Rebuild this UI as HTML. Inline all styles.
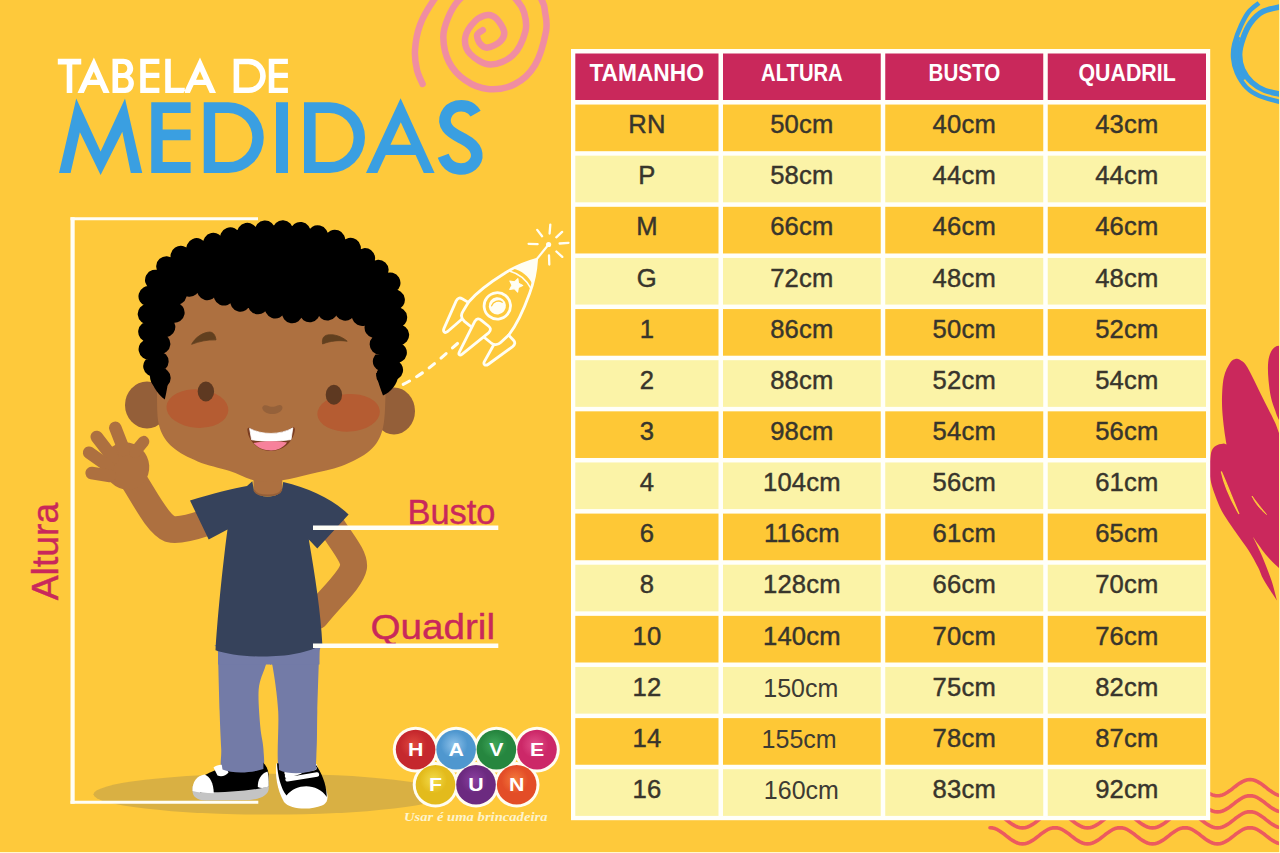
<!DOCTYPE html>
<html><head><meta charset="utf-8"><title>Tabela de Medidas</title>
<style>
html,body{margin:0;padding:0;background:#fffad2;}
body{width:1280px;height:853px;position:relative;overflow:hidden;font-family:"Liberation Sans",sans-serif;}
#bg{position:absolute;left:0;top:0;width:1279px;height:852px;background:#fec93b;overflow:hidden;}
svg.l{position:absolute;left:0;top:0;}
.tb{position:absolute;background:#fffffa;}
.hd{position:absolute;background:#ca285c;}
.cl{position:absolute;text-align:center;}
.ra{background:#fec836;}
.rb{background:#fbf3a8;}
.tx{display:block;font-size:25.6px;line-height:28px;padding-top:5.7px;color:#38352c;-webkit-text-stroke:0.45px #38352c;letter-spacing:0.2px;}
.tx.ar{font-size:25px;padding-top:7.2px;-webkit-text-stroke:0;letter-spacing:0;color:#3d3b33;}
</style></head>
<body>
<div style="position:absolute;left:1279px;top:0;width:1px;height:852px;background:#fff3a6"></div>
<div id="bg">
<svg class="l" width="1280" height="853" viewBox="0 0 1280 853">
<path d="M482.8 30.1C481.9 30.9 477.5 32.8 477.1 35.1C476.7 37.4 478.5 41.8 480.3 43.9C482.1 46.0 484.5 48.0 487.8 47.6C491.1 47.2 497.6 44.1 500.3 41.4C503.0 38.7 504.8 35.1 504.1 31.3C503.4 27.5 499.0 21.2 496.3 18.5C493.6 15.8 491.3 14.6 487.8 15.0C484.3 15.4 479.0 17.2 475.2 21.0C471.4 24.8 466.0 32.1 465.2 37.6C464.4 43.1 466.0 49.4 470.2 53.9C474.4 58.4 483.2 64.4 490.3 64.6C497.4 64.8 507.0 60.8 512.9 55.2C518.8 49.7 523.5 38.4 525.4 31.3C527.3 24.2 525.6 17.7 524.1 12.5C522.6 7.3 520.6 4.4 516.6 0.0C512.6 -4.4 506.4 -12.0 500.0 -14.0C493.6 -16.0 484.8 -14.3 478.0 -12.0C471.2 -9.7 464.0 -5.0 459.0 0.0C454.0 5.0 450.6 11.7 448.0 18.0C445.4 24.3 443.1 30.3 443.3 37.6C443.5 44.9 445.4 54.9 449.0 62.0C452.6 69.1 458.5 75.5 465.0 80.0C471.5 84.5 479.5 88.3 487.8 89.0C496.1 89.7 507.1 88.0 515.0 84.0C522.9 80.0 529.8 73.8 535.0 65.0C540.2 56.2 544.3 40.1 546.0 31.3C547.7 22.5 545.7 17.2 545.0 12.0C544.3 6.8 545.0 6.2 541.7 0.0C538.4 -6.2 533.6 -18.7 525.0 -25.0C516.4 -31.3 501.7 -38.0 490.0 -38.0C478.3 -38.0 464.4 -31.3 455.0 -25.0C445.6 -18.7 439.7 -8.3 433.9 0.0C428.1 8.3 423.1 16.6 420.0 25.0C416.9 33.4 415.5 42.7 415.0 50.2C414.5 57.7 415.7 64.4 417.0 70.0C418.3 75.6 421.7 81.7 422.6 84.0" fill="none" stroke="#f08da1" stroke-width="6.5" stroke-linecap="round" stroke-linejoin="round"/>
<path d="M1259.0 3.0C1257.3 4.4 1252.0 7.8 1249.0 11.5C1246.0 15.2 1243.5 20.1 1241.0 25.5C1238.5 30.9 1235.6 38.6 1234.3 44.0C1233.0 49.4 1232.8 53.2 1233.2 58.0C1233.6 62.8 1234.6 67.6 1236.8 72.5C1239.0 77.4 1242.7 83.6 1246.5 87.5C1250.3 91.4 1253.6 93.5 1259.5 96.0C1265.4 98.5 1278.2 101.4 1282.0 102.5" fill="none" stroke="#3a9fe1" stroke-width="4.6"/>
<path d="M1282.0 6.5C1278.8 7.3 1268.2 8.8 1263.0 11.5C1257.8 14.2 1253.8 18.5 1250.5 23.0C1247.2 27.5 1244.8 33.3 1243.0 38.5C1241.2 43.7 1239.7 48.8 1239.6 54.0C1239.5 59.2 1240.4 64.8 1242.5 69.5C1244.6 74.2 1248.2 79.0 1252.0 82.5C1255.8 86.0 1260.0 88.5 1265.0 90.5C1270.0 92.5 1279.2 93.8 1282.0 94.5" fill="none" stroke="#3a9fe1" stroke-width="5.6"/>
<path d="M1238.5 37.0C1238.1 39.8 1236.2 48.7 1236.3 54.0C1236.4 59.3 1237.6 64.8 1239.0 69.0C1240.4 73.2 1243.6 77.8 1244.5 79.5" fill="none" stroke="#3a9fe1" stroke-width="3.4"/>
<path d="M1275.0 347.0C1273.0 348.3 1271.2 351.0 1270.0 354.0C1268.8 357.0 1268.2 360.7 1268.0 365.0C1267.8 369.3 1268.0 374.6 1268.5 380.0C1269.0 385.4 1269.9 392.5 1271.0 397.5C1272.1 402.5 1273.7 406.2 1275.0 410.0C1276.3 413.8 1276.5 415.0 1279.0 420.0C1281.5 425.0 1288.2 451.7 1290.0 440.0C1291.8 428.3 1291.3 365.7 1290.0 350.0C1288.7 334.3 1284.5 346.5 1282.0 346.0C1279.5 345.5 1277.0 345.7 1275.0 347.0Z" fill="#ca285c"/>
<path d="M1290.0 452.0C1288.3 449.2 1282.5 439.9 1280.0 435.0C1277.5 430.1 1277.9 428.8 1275.0 422.5C1272.1 416.2 1267.1 406.7 1262.5 397.5C1257.9 388.3 1251.1 373.7 1247.5 367.5C1243.9 361.3 1242.9 362.0 1241.0 360.5C1239.1 359.0 1237.8 358.3 1236.0 358.8C1234.2 359.2 1232.0 359.9 1230.0 363.0C1228.0 366.1 1225.1 370.9 1223.8 377.5C1222.4 384.1 1222.0 394.1 1222.0 402.5C1222.0 410.9 1223.2 421.0 1224.0 428.0C1224.8 435.0 1226.1 441.8 1226.5 444.5 L1224.0 443.5C1222.9 443.8 1219.5 443.9 1217.5 445.0C1215.5 446.1 1213.2 447.2 1212.0 450.0C1210.8 452.8 1210.2 457.0 1210.0 462.0C1209.8 467.0 1209.3 473.7 1210.5 480.0C1211.7 486.3 1214.7 494.3 1216.9 500.0C1219.1 505.7 1220.1 508.2 1223.5 514.0C1226.9 519.8 1233.3 528.6 1237.5 534.7C1241.7 540.8 1245.3 545.2 1248.8 550.7C1252.2 556.2 1255.7 562.6 1258.2 567.5C1260.7 572.4 1260.7 574.5 1263.8 580.0C1266.9 585.5 1274.8 597.1 1277.0 600.5 L1277.0 600.5C1276.0 597.1 1273.8 587.4 1271.3 580.0C1268.8 572.6 1265.0 563.2 1262.0 556.0C1259.0 548.8 1254.5 540.2 1253.0 537.0 L1253.0 537.0C1255.1 539.9 1261.4 549.2 1265.7 554.4C1270.0 559.6 1275.0 564.6 1279.0 568.0C1283.0 571.4 1288.2 573.8 1290.0 575.0 Z" fill="#ca285c"/>
<path d="M1221.3 471.5C1227 484 1233 500 1239 514C1231 500 1224 484 1221.3 471.5Z" fill="#fec93b" stroke="#fec93b" stroke-width="1.2"/>
<path d="M1252 496C1257 503 1262 509 1266.5 514.5C1260 509 1255 503 1252 496Z" fill="#fec93b" stroke="#fec93b" stroke-width="0.8"/>
<path d="M990.0 827.7 L992.5 827.9 L995.0 828.6 L997.5 829.7 L1000.0 831.2 L1002.5 832.9 L1005.0 834.8 L1007.5 836.8 L1010.0 838.7 L1012.5 840.4 L1015.0 841.9 L1017.5 843.0 L1020.0 843.7 L1022.5 843.9 L1025.0 843.7 L1027.5 843.0 L1030.0 841.9 L1032.5 840.4 L1035.0 838.7 L1037.5 836.8 L1040.0 834.8 L1042.5 832.9 L1045.0 831.2 L1047.5 829.7 L1050.0 828.6 L1052.5 827.9 L1055.0 827.7 L1057.5 827.9 L1060.0 828.6 L1062.5 829.7 L1065.0 831.2 L1067.5 832.9 L1070.0 834.8 L1072.5 836.8 L1075.0 838.7 L1077.5 840.4 L1080.0 841.9 L1082.5 843.0 L1085.0 843.7 L1087.5 843.9 L1090.0 843.7 L1092.5 843.0 L1095.0 841.9 L1097.5 840.4 L1100.0 838.7 L1102.5 836.8 L1105.0 834.8 L1107.5 832.9 L1110.0 831.2 L1112.5 829.7 L1115.0 828.6 L1117.5 827.9 L1120.0 827.7 L1122.5 827.9 L1125.0 828.6 L1127.5 829.7 L1130.0 831.2 L1132.5 832.9 L1135.0 834.8 L1137.5 836.8 L1140.0 838.7 L1142.5 840.4 L1145.0 841.9 L1147.5 843.0 L1150.0 843.7 L1152.5 843.9 L1155.0 843.7 L1157.5 843.0 L1160.0 841.9 L1162.5 840.4 L1165.0 838.7 L1167.5 836.8 L1170.0 834.8 L1172.5 832.9 L1175.0 831.2 L1177.5 829.7 L1180.0 828.6 L1182.5 827.9 L1185.0 827.7 L1187.5 827.9 L1190.0 828.6 L1192.5 829.7 L1195.0 831.2 L1197.5 832.9 L1200.0 834.8 L1202.5 836.8 L1205.0 838.7 L1207.5 840.4 L1210.0 841.9 L1212.5 843.0 L1215.0 843.7 L1217.5 843.9 L1220.0 843.7 L1222.5 843.0 L1225.0 841.9 L1227.5 840.4 L1230.0 838.7 L1232.5 836.8 L1235.0 834.8 L1237.5 832.9 L1240.0 831.2 L1242.5 829.7 L1245.0 828.6 L1247.5 827.9 L1250.0 827.7 L1252.5 827.9 L1255.0 828.6 L1257.5 829.7 L1260.0 831.2 L1262.5 832.9 L1265.0 834.8 L1267.5 836.8 L1270.0 838.7 L1272.5 840.4 L1275.0 841.9 L1277.5 843.0 L1280.0 843.7" fill="none" stroke="#ec5a5f" stroke-width="3.6" stroke-linecap="round" stroke-linejoin="round"/>
<path d="M990.0 811.7 L992.5 811.9 L995.0 812.6 L997.5 813.7 L1000.0 815.2 L1002.5 816.9 L1005.0 818.8 L1007.5 820.8 L1010.0 822.7 L1012.5 824.4 L1015.0 825.9 L1017.5 827.0 L1020.0 827.7 L1022.5 827.9 L1025.0 827.7 L1027.5 827.0 L1030.0 825.9 L1032.5 824.4 L1035.0 822.7 L1037.5 820.8 L1040.0 818.8 L1042.5 816.9 L1045.0 815.2 L1047.5 813.7 L1050.0 812.6 L1052.5 811.9 L1055.0 811.7 L1057.5 811.9 L1060.0 812.6 L1062.5 813.7 L1065.0 815.2 L1067.5 816.9 L1070.0 818.8 L1072.5 820.8 L1075.0 822.7 L1077.5 824.4 L1080.0 825.9 L1082.5 827.0 L1085.0 827.7 L1087.5 827.9 L1090.0 827.7 L1092.5 827.0 L1095.0 825.9 L1097.5 824.4 L1100.0 822.7 L1102.5 820.8 L1105.0 818.8 L1107.5 816.9 L1110.0 815.2 L1112.5 813.7 L1115.0 812.6 L1117.5 811.9 L1120.0 811.7 L1122.5 811.9 L1125.0 812.6 L1127.5 813.7 L1130.0 815.2 L1132.5 816.9 L1135.0 818.8 L1137.5 820.8 L1140.0 822.7 L1142.5 824.4 L1145.0 825.9 L1147.5 827.0 L1150.0 827.7 L1152.5 827.9 L1155.0 827.7 L1157.5 827.0 L1160.0 825.9 L1162.5 824.4 L1165.0 822.7 L1167.5 820.8 L1170.0 818.8 L1172.5 816.9 L1175.0 815.2 L1177.5 813.7 L1180.0 812.6 L1182.5 811.9 L1185.0 811.7 L1187.5 811.9 L1190.0 812.6 L1192.5 813.7 L1195.0 815.2 L1197.5 816.9 L1200.0 818.8 L1202.5 820.8 L1205.0 822.7 L1207.5 824.4 L1210.0 825.9 L1212.5 827.0 L1215.0 827.7 L1217.5 827.9 L1220.0 827.7 L1222.5 827.0 L1225.0 825.9 L1227.5 824.4 L1230.0 822.7 L1232.5 820.8 L1235.0 818.8 L1237.5 816.9 L1240.0 815.2 L1242.5 813.7 L1245.0 812.6 L1247.5 811.9 L1250.0 811.7 L1252.5 811.9 L1255.0 812.6 L1257.5 813.7 L1260.0 815.2 L1262.5 816.9 L1265.0 818.8 L1267.5 820.8 L1270.0 822.7 L1272.5 824.4 L1275.0 825.9 L1277.5 827.0 L1280.0 827.7" fill="none" stroke="#ec5a5f" stroke-width="3.6" stroke-linecap="round" stroke-linejoin="round"/>
<path d="M1200.0 802.8 L1202.5 804.8 L1205.0 806.7 L1207.5 808.4 L1210.0 809.9 L1212.5 811.0 L1215.0 811.7 L1217.5 811.9 L1220.0 811.7 L1222.5 811.0 L1225.0 809.9 L1227.5 808.4 L1230.0 806.7 L1232.5 804.8 L1235.0 802.8 L1237.5 800.9 L1240.0 799.2 L1242.5 797.7 L1245.0 796.6 L1247.5 795.9 L1250.0 795.7 L1252.5 795.9 L1255.0 796.6 L1257.5 797.7 L1260.0 799.2 L1262.5 800.9 L1265.0 802.8 L1267.5 804.8 L1270.0 806.7 L1272.5 808.4 L1275.0 809.9 L1277.5 811.0 L1280.0 811.7" fill="none" stroke="#ec5a5f" stroke-width="3.6" stroke-linecap="round" stroke-linejoin="round"/>
<path d="M1200.0 786.7 L1202.5 788.7 L1205.0 790.6 L1207.5 792.3 L1210.0 793.8 L1212.5 794.9 L1215.0 795.6 L1217.5 795.8 L1220.0 795.6 L1222.5 794.9 L1225.0 793.8 L1227.5 792.3 L1230.0 790.6 L1232.5 788.7 L1235.0 786.7 L1237.5 784.8 L1240.0 783.1 L1242.5 781.6 L1245.0 780.5 L1247.5 779.8 L1250.0 779.6 L1252.5 779.8 L1255.0 780.5 L1257.5 781.6 L1260.0 783.1 L1262.5 784.8 L1265.0 786.7 L1267.5 788.7 L1270.0 790.6 L1272.5 792.3 L1275.0 793.8 L1277.5 794.9 L1280.0 795.6" fill="none" stroke="#ec5a5f" stroke-width="3.6" stroke-linecap="round" stroke-linejoin="round"/>
</svg>
<svg class="l" width="1280" height="853" viewBox="0 0 1280 853"><rect x="571" y="49" width="639.2" height="771.2" fill="#fffffa"/><rect x="575.3" y="53.5" width="143.20" height="46.5" fill="#c9285b"/><rect x="723.0" y="53.5" width="157.75" height="46.5" fill="#c9285b"/><rect x="885.25" y="53.5" width="158.00" height="46.5" fill="#c9285b"/><rect x="1047.75" y="53.5" width="158.25" height="46.5" fill="#c9285b"/><rect x="575.3" y="104.55" width="143.20" height="46.65" fill="#fec836"/><rect x="723.0" y="104.55" width="157.75" height="46.65" fill="#fec836"/><rect x="885.25" y="104.55" width="158.00" height="46.65" fill="#fec836"/><rect x="1047.75" y="104.55" width="158.25" height="46.65" fill="#fec836"/><rect x="575.3" y="155.68" width="143.20" height="46.65" fill="#fbf3a7"/><rect x="723.0" y="155.68" width="157.75" height="46.65" fill="#fbf3a7"/><rect x="885.25" y="155.68" width="158.00" height="46.65" fill="#fbf3a7"/><rect x="1047.75" y="155.68" width="158.25" height="46.65" fill="#fbf3a7"/><rect x="575.3" y="206.81" width="143.20" height="46.65" fill="#fec836"/><rect x="723.0" y="206.81" width="157.75" height="46.65" fill="#fec836"/><rect x="885.25" y="206.81" width="158.00" height="46.65" fill="#fec836"/><rect x="1047.75" y="206.81" width="158.25" height="46.65" fill="#fec836"/><rect x="575.3" y="257.94" width="143.20" height="46.65" fill="#fbf3a7"/><rect x="723.0" y="257.94" width="157.75" height="46.65" fill="#fbf3a7"/><rect x="885.25" y="257.94" width="158.00" height="46.65" fill="#fbf3a7"/><rect x="1047.75" y="257.94" width="158.25" height="46.65" fill="#fbf3a7"/><rect x="575.3" y="309.07" width="143.20" height="46.65" fill="#fec836"/><rect x="723.0" y="309.07" width="157.75" height="46.65" fill="#fec836"/><rect x="885.25" y="309.07" width="158.00" height="46.65" fill="#fec836"/><rect x="1047.75" y="309.07" width="158.25" height="46.65" fill="#fec836"/><rect x="575.3" y="360.20" width="143.20" height="46.65" fill="#fbf3a7"/><rect x="723.0" y="360.20" width="157.75" height="46.65" fill="#fbf3a7"/><rect x="885.25" y="360.20" width="158.00" height="46.65" fill="#fbf3a7"/><rect x="1047.75" y="360.20" width="158.25" height="46.65" fill="#fbf3a7"/><rect x="575.3" y="411.33" width="143.20" height="46.65" fill="#fec836"/><rect x="723.0" y="411.33" width="157.75" height="46.65" fill="#fec836"/><rect x="885.25" y="411.33" width="158.00" height="46.65" fill="#fec836"/><rect x="1047.75" y="411.33" width="158.25" height="46.65" fill="#fec836"/><rect x="575.3" y="462.46" width="143.20" height="46.65" fill="#fbf3a7"/><rect x="723.0" y="462.46" width="157.75" height="46.65" fill="#fbf3a7"/><rect x="885.25" y="462.46" width="158.00" height="46.65" fill="#fbf3a7"/><rect x="1047.75" y="462.46" width="158.25" height="46.65" fill="#fbf3a7"/><rect x="575.3" y="513.59" width="143.20" height="46.65" fill="#fec836"/><rect x="723.0" y="513.59" width="157.75" height="46.65" fill="#fec836"/><rect x="885.25" y="513.59" width="158.00" height="46.65" fill="#fec836"/><rect x="1047.75" y="513.59" width="158.25" height="46.65" fill="#fec836"/><rect x="575.3" y="564.72" width="143.20" height="46.65" fill="#fbf3a7"/><rect x="723.0" y="564.72" width="157.75" height="46.65" fill="#fbf3a7"/><rect x="885.25" y="564.72" width="158.00" height="46.65" fill="#fbf3a7"/><rect x="1047.75" y="564.72" width="158.25" height="46.65" fill="#fbf3a7"/><rect x="575.3" y="615.85" width="143.20" height="46.65" fill="#fec836"/><rect x="723.0" y="615.85" width="157.75" height="46.65" fill="#fec836"/><rect x="885.25" y="615.85" width="158.00" height="46.65" fill="#fec836"/><rect x="1047.75" y="615.85" width="158.25" height="46.65" fill="#fec836"/><rect x="575.3" y="666.98" width="143.20" height="46.65" fill="#fbf3a7"/><rect x="723.0" y="666.98" width="157.75" height="46.65" fill="#fbf3a7"/><rect x="885.25" y="666.98" width="158.00" height="46.65" fill="#fbf3a7"/><rect x="1047.75" y="666.98" width="158.25" height="46.65" fill="#fbf3a7"/><rect x="575.3" y="718.11" width="143.20" height="46.65" fill="#fec836"/><rect x="723.0" y="718.11" width="157.75" height="46.65" fill="#fec836"/><rect x="885.25" y="718.11" width="158.00" height="46.65" fill="#fec836"/><rect x="1047.75" y="718.11" width="158.25" height="46.65" fill="#fec836"/><rect x="575.3" y="769.24" width="143.20" height="46.65" fill="#fbf3a7"/><rect x="723.0" y="769.24" width="157.75" height="46.65" fill="#fbf3a7"/><rect x="885.25" y="769.24" width="158.00" height="46.65" fill="#fbf3a7"/><rect x="1047.75" y="769.24" width="158.25" height="46.65" fill="#fbf3a7"/></svg>
<div class="cl" style="left:575.3px;top:104.55px;width:143.20px;height:46.65px"><span class="tx">RN</span></div>
<div class="cl" style="left:723.0px;top:104.55px;width:157.75px;height:46.65px"><span class="tx">50cm</span></div>
<div class="cl" style="left:885.25px;top:104.55px;width:158.00px;height:46.65px"><span class="tx">40cm</span></div>
<div class="cl" style="left:1047.75px;top:104.55px;width:158.25px;height:46.65px"><span class="tx">43cm</span></div>
<div class="cl" style="left:575.3px;top:155.68px;width:143.20px;height:46.65px"><span class="tx">P</span></div>
<div class="cl" style="left:723.0px;top:155.68px;width:157.75px;height:46.65px"><span class="tx">58cm</span></div>
<div class="cl" style="left:885.25px;top:155.68px;width:158.00px;height:46.65px"><span class="tx">44cm</span></div>
<div class="cl" style="left:1047.75px;top:155.68px;width:158.25px;height:46.65px"><span class="tx">44cm</span></div>
<div class="cl" style="left:575.3px;top:206.81px;width:143.20px;height:46.65px"><span class="tx">M</span></div>
<div class="cl" style="left:723.0px;top:206.81px;width:157.75px;height:46.65px"><span class="tx">66cm</span></div>
<div class="cl" style="left:885.25px;top:206.81px;width:158.00px;height:46.65px"><span class="tx">46cm</span></div>
<div class="cl" style="left:1047.75px;top:206.81px;width:158.25px;height:46.65px"><span class="tx">46cm</span></div>
<div class="cl" style="left:575.3px;top:257.94px;width:143.20px;height:46.65px"><span class="tx">G</span></div>
<div class="cl" style="left:723.0px;top:257.94px;width:157.75px;height:46.65px"><span class="tx">72cm</span></div>
<div class="cl" style="left:885.25px;top:257.94px;width:158.00px;height:46.65px"><span class="tx">48cm</span></div>
<div class="cl" style="left:1047.75px;top:257.94px;width:158.25px;height:46.65px"><span class="tx">48cm</span></div>
<div class="cl" style="left:575.3px;top:309.07px;width:143.20px;height:46.65px"><span class="tx">1</span></div>
<div class="cl" style="left:723.0px;top:309.07px;width:157.75px;height:46.65px"><span class="tx">86cm</span></div>
<div class="cl" style="left:885.25px;top:309.07px;width:158.00px;height:46.65px"><span class="tx">50cm</span></div>
<div class="cl" style="left:1047.75px;top:309.07px;width:158.25px;height:46.65px"><span class="tx">52cm</span></div>
<div class="cl" style="left:575.3px;top:360.20px;width:143.20px;height:46.65px"><span class="tx">2</span></div>
<div class="cl" style="left:723.0px;top:360.20px;width:157.75px;height:46.65px"><span class="tx">88cm</span></div>
<div class="cl" style="left:885.25px;top:360.20px;width:158.00px;height:46.65px"><span class="tx">52cm</span></div>
<div class="cl" style="left:1047.75px;top:360.20px;width:158.25px;height:46.65px"><span class="tx">54cm</span></div>
<div class="cl" style="left:575.3px;top:411.33px;width:143.20px;height:46.65px"><span class="tx">3</span></div>
<div class="cl" style="left:723.0px;top:411.33px;width:157.75px;height:46.65px"><span class="tx">98cm</span></div>
<div class="cl" style="left:885.25px;top:411.33px;width:158.00px;height:46.65px"><span class="tx">54cm</span></div>
<div class="cl" style="left:1047.75px;top:411.33px;width:158.25px;height:46.65px"><span class="tx">56cm</span></div>
<div class="cl" style="left:575.3px;top:462.46px;width:143.20px;height:46.65px"><span class="tx">4</span></div>
<div class="cl" style="left:723.0px;top:462.46px;width:157.75px;height:46.65px"><span class="tx">104cm</span></div>
<div class="cl" style="left:885.25px;top:462.46px;width:158.00px;height:46.65px"><span class="tx">56cm</span></div>
<div class="cl" style="left:1047.75px;top:462.46px;width:158.25px;height:46.65px"><span class="tx">61cm</span></div>
<div class="cl" style="left:575.3px;top:513.59px;width:143.20px;height:46.65px"><span class="tx">6</span></div>
<div class="cl" style="left:723.0px;top:513.59px;width:157.75px;height:46.65px"><span class="tx">116cm</span></div>
<div class="cl" style="left:885.25px;top:513.59px;width:158.00px;height:46.65px"><span class="tx">61cm</span></div>
<div class="cl" style="left:1047.75px;top:513.59px;width:158.25px;height:46.65px"><span class="tx">65cm</span></div>
<div class="cl" style="left:575.3px;top:564.72px;width:143.20px;height:46.65px"><span class="tx">8</span></div>
<div class="cl" style="left:723.0px;top:564.72px;width:157.75px;height:46.65px"><span class="tx">128cm</span></div>
<div class="cl" style="left:885.25px;top:564.72px;width:158.00px;height:46.65px"><span class="tx">66cm</span></div>
<div class="cl" style="left:1047.75px;top:564.72px;width:158.25px;height:46.65px"><span class="tx">70cm</span></div>
<div class="cl" style="left:575.3px;top:615.85px;width:143.20px;height:46.65px"><span class="tx">10</span></div>
<div class="cl" style="left:723.0px;top:615.85px;width:157.75px;height:46.65px"><span class="tx">140cm</span></div>
<div class="cl" style="left:885.25px;top:615.85px;width:158.00px;height:46.65px"><span class="tx">70cm</span></div>
<div class="cl" style="left:1047.75px;top:615.85px;width:158.25px;height:46.65px"><span class="tx">76cm</span></div>
<div class="cl" style="left:575.3px;top:666.98px;width:143.20px;height:46.65px"><span class="tx">12</span></div>
<div class="cl" style="left:723.0px;top:666.98px;width:157.75px;height:46.65px"><span class="tx ar" style="margin-left:-2.2px">150cm</span></div>
<div class="cl" style="left:885.25px;top:666.98px;width:158.00px;height:46.65px"><span class="tx">75cm</span></div>
<div class="cl" style="left:1047.75px;top:666.98px;width:158.25px;height:46.65px"><span class="tx">82cm</span></div>
<div class="cl" style="left:575.3px;top:718.11px;width:143.20px;height:46.65px"><span class="tx">14</span></div>
<div class="cl" style="left:723.0px;top:718.11px;width:157.75px;height:46.65px"><span class="tx ar" style="margin-left:-5.5px">155cm</span></div>
<div class="cl" style="left:885.25px;top:718.11px;width:158.00px;height:46.65px"><span class="tx">78cm</span></div>
<div class="cl" style="left:1047.75px;top:718.11px;width:158.25px;height:46.65px"><span class="tx">87cm</span></div>
<div class="cl" style="left:575.3px;top:769.24px;width:143.20px;height:46.65px"><span class="tx">16</span></div>
<div class="cl" style="left:723.0px;top:769.24px;width:157.75px;height:46.65px"><span class="tx ar" style="margin-left:-1.0px">160cm</span></div>
<div class="cl" style="left:885.25px;top:769.24px;width:158.00px;height:46.65px"><span class="tx">83cm</span></div>
<div class="cl" style="left:1047.75px;top:769.24px;width:158.25px;height:46.65px"><span class="tx">92cm</span></div>
<svg class="l" width="1280" height="853" viewBox="0 0 1280 853">
<text x="589.4" y="81.4" font-family="Liberation Sans, sans-serif" font-weight="bold" font-size="23.2" fill="#fff" textLength="114.5" lengthAdjust="spacingAndGlyphs">TAMANHO</text><text x="761.1" y="81.4" font-family="Liberation Sans, sans-serif" font-weight="bold" font-size="23.2" fill="#fff" textLength="81.6" lengthAdjust="spacingAndGlyphs">ALTURA</text><text x="928.6" y="81.4" font-family="Liberation Sans, sans-serif" font-weight="bold" font-size="23.2" fill="#fff" textLength="71.6" lengthAdjust="spacingAndGlyphs">BUSTO</text><text x="1078.5" y="81.4" font-family="Liberation Sans, sans-serif" font-weight="bold" font-size="23.2" fill="#fff" textLength="97.2" lengthAdjust="spacingAndGlyphs">QUADRIL</text>
<path d="M57.8 58.8H81.25V64.39999999999999H72.3V93.0H66.7V64.39999999999999H57.8ZM77.50 93.0L93.90 57.6L109.70 93.0L103.40 93.0L99.78 84.9L87.55 84.9L83.80 93.0ZM89.96 79.7L93.78 71.45L97.46 79.7ZM112.5 58.8H123.5A9.6 9.6 0 0 1 129.6 75.8A9.4 9.4 0 0 1 125.3 93.0H112.5ZM118.1 64.0V73.0H122.8A4.5 4.5 0 0 0 122.8 64.0ZM118.1 78.0V87.8H124.6A5 5 0 0 0 124.6 78.0ZM140.2 58.8H159.4V64.1H145.79999999999998V72.8H159.4V78.1H145.79999999999998V87.7H159.4V93.0H140.2ZM165.2 58.8H170.8V87.7H184.8V93.0H165.2ZM183.60 93.0L200.00 57.6L216.00 93.0L209.70 93.0L206.04 84.9L193.65 84.9L189.90 93.0ZM196.06 79.7L199.92 71.37L203.69 79.7ZM233.6 58.8H248.70A17.10 17.10 0 0 1 248.70 93.0H233.6ZM239.2 64.2V87.6H248.70A11.43 11.70 0 0 0 248.70 64.2ZM268.75 58.8H287.9V64.1H274.35V72.8H287.9V78.1H274.35V87.7H287.9V93.0H268.75Z" fill="#ffffff" fill-rule="evenodd"/>
<path d="M59 172.9L76.25 98.6L100.6 151.6L125 98.6L142.25 172.9L130.8 172.9L122.3 131.8L100.6 175L79.9 132.2L70.6 172.9ZM151.25 102.2H190.6V113.0H162.65V129.4H190.6V140.20000000000002H162.65V162.1H190.6V172.9H151.25ZM203.75 102.2H228.40A35.35 35.35 0 0 1 228.40 172.9H203.75ZM215.15 113.10000000000001V162.0H228.40A23.91 24.45 0 0 0 228.40 113.10000000000001ZM276 102.2H288V172.9H276ZM304 102.2H329.65A35.35 35.35 0 0 1 329.65 172.9H304ZM315.6 113.10000000000001V162.0H329.65A23.91 24.45 0 0 0 329.65 113.10000000000001ZM366.00 172.9L400.60 98.2L434.60 172.9L423.80 172.9L415.61 154.9L385.74 154.9L377.40 172.9ZM390.44 144.75L400.80 122.37L410.99 144.75Z" fill="#3a9fe1" fill-rule="evenodd"/>
<path d="M475.6 113.6C471 105.5 462 105 457 106.2C447 108.5 441.5 119.5 447.5 128C452 134.5 462 137.5 469 142.5C478 149 479.5 158.5 472 165.2C464 171.5 452 169.5 446.5 162C445 160 444 158 443.2 155.8" fill="none" stroke="#3a9fe1" stroke-width="11.6"/>
<ellipse cx="269.5" cy="794.2" rx="176" ry="20.4" fill="#d9b043"/>
<path d="M258 218.75H70.5M258.3 802.3H70.5" fill="none" stroke="#fffef6" stroke-width="3.1"/><path d="M72.6 217.2V803.85" fill="none" stroke="#fffef6" stroke-width="4.2"/>
<path d="M330 523C340 540 355 556 353.5 567C351 580 330 598 316 616" fill="none" stroke="#ad7040" stroke-width="27" stroke-linejoin="round" stroke-linecap="round"/>
<path d="M205 523C190 528 178 531 170 529C158 524 146 500 134 481" fill="none" stroke="#ad7040" stroke-width="27" stroke-linejoin="round" stroke-linecap="round"/>
<ellipse cx="126.5" cy="466" rx="22.5" ry="24" fill="#ad7040" transform="rotate(-25 126.5 466)"/>
<path d="M135 452L143.6 441.6" stroke="#ad7040" stroke-width="11.5" stroke-linecap="round"/>
<path d="M124 450L115.3 427.8" stroke="#ad7040" stroke-width="12.5" stroke-linecap="round"/>
<path d="M113 458L96.7 436.9" stroke="#ad7040" stroke-width="12.5" stroke-linecap="round"/>
<path d="M108 466L89.1 452.7" stroke="#ad7040" stroke-width="12.5" stroke-linecap="round"/>
<path d="M110 476L91.6 473" stroke="#ad7040" stroke-width="12.5" stroke-linecap="round"/>
<path d="M217.5 645.0C209.2 646.3 217.7 642.0 218.0 653.0C218.3 664.0 219.1 695.0 219.6 711.0C220.1 727.0 220.7 739.0 221.2 748.8C221.7 758.6 219.0 766.1 222.5 770.0C226.0 773.9 235.4 772.0 242.0 772.0C248.6 772.0 258.4 773.9 262.0 770.0C265.6 766.1 263.7 756.0 263.4 748.8C263.1 741.6 261.1 736.7 260.3 726.8C259.5 716.9 257.9 699.2 258.7 689.3C259.5 679.4 263.8 671.6 265.0 667.4C266.2 663.2 265.5 667.7 266.0 664.0C266.5 660.3 276.1 648.2 268.0 645.0C259.9 641.8 225.8 643.7 217.5 645.0Z" fill="#737ba7"/><path d="M266.0 645.0C257.7 648.2 268.9 660.3 270.0 664.0C271.1 667.7 271.4 659.5 272.8 667.4C274.2 675.3 277.2 694.1 278.2 711.2C279.2 728.3 276.0 759.8 279.0 770.0C282.0 780.2 290.2 772.4 296.0 772.5C301.8 772.6 310.1 774.7 313.5 770.7C316.9 766.8 316.0 758.7 316.6 748.8C317.2 738.9 316.9 727.1 317.3 711.2C317.7 695.3 318.8 664.3 319.2 653.3C319.6 642.3 328.9 646.4 320.0 645.0C311.1 643.6 274.3 641.8 266.0 645.0Z" fill="#737ba7"/>
<rect x="218" y="640" width="101.5" height="24.5" fill="#737ba7"/>
<path d="M192.5 789C192 796 196 800 206 800.5L250 800C262 798.5 268.5 795 268.8 788L268.5 784L192.5 786Z" fill="#c4c4c4"/>
<path d="M203 776C212 771 222 767 232 765.5L262.5 762C266 765 268 769 268.6 774L268.6 786.5C255 790.5 225 792.8 200 792.5Z" fill="#000"/>
<path d="M192.6 791C192 782 197 775.5 204.5 774.5C210 776.5 213.5 783 213.8 793.2C206 793.2 198 792.5 192.6 791Z" fill="#fff"/>
<path d="M257.8 787C257.5 780 261 773.5 267.5 771.5C268.6 775 268.8 782 268.7 786.5C265 788 261 788.5 257.8 787Z" fill="#fff"/>
<path d="M213.5 767.5C217 764.5 222 764 225 765.5L228.5 772.5C226 776 221 777 217.5 775.5Z" fill="#fff"/>
<path d="M276.3 763.5C275 775 277 790 284 802C290 809.5 310 810.5 322 805.5C328 803 328.5 797 326.5 791L316.5 764Z" fill="#fff"/>
<path d="M277 763.2L316 765C321 772 326.5 783 326.8 797C318 783.5 297 782.5 286.5 795.5C281 789 277.5 775 277 763.2Z" fill="#000"/>
<path d="M286.5 773L314.5 768.2M287.5 779.3L317 774.5M287 776L300 772" stroke="#fff" stroke-width="4.4" stroke-linecap="round" fill="none"/>
<path d="M221 760H263.4V769C250 773.5 232 773.5 222.5 769.5Z" fill="#737ba7"/><path d="M278.6 760H316V769.5C305 774.5 288 774.5 279 770Z" fill="#737ba7"/>
<path d="M253.5 470H282.3V488C282.3 499.5 253.5 499.5 253.5 488Z" fill="#ad7040"/>
<path d="M252.3 481.2L247 486C234 488.5 212 493.5 190 500.5L208.7 539.6L227.5 529.6C224 555 218 610 215.5 650.2C240 659 300 660 322.3 644C321 615 315 575 308.8 539.6L317.3 548.4L348.6 514.6C335 501 310 488 283.2 482L282.3 488C281 499.5 254.5 499.5 253.5 488Z" fill="#36425b"/>
<path d="M254 490C257 497.3 279 497.3 281.8 489.5" fill="none" stroke="#945f39" stroke-width="1.6"/>
<ellipse cx="147" cy="405" rx="22" ry="23.5" fill="#945f39"/><ellipse cx="394" cy="411" rx="21" ry="23.5" fill="#945f39"/>
<path d="M157.0 395.0C156.8 382.2 155.8 365.8 158.0 350.0C160.2 334.2 163.0 313.3 170.0 300.0C177.0 286.7 183.3 277.5 200.0 270.0C216.7 262.5 245.8 255.0 270.0 255.0C294.2 255.0 327.5 261.7 345.0 270.0C362.5 278.3 368.2 290.8 375.0 305.0C381.8 319.2 383.8 339.9 385.5 355.0C387.2 370.1 386.0 383.1 385.5 395.6C385.0 408.1 385.0 420.9 382.4 430.0C379.8 439.1 376.7 444.4 369.9 450.4C363.1 456.4 351.6 462.1 341.7 466.0C331.8 469.9 320.0 471.6 310.4 473.9C300.8 476.2 291.0 478.6 283.8 480.0C276.6 481.4 272.5 482.1 267.0 482.0C261.5 481.9 257.3 481.4 251.0 479.5C244.7 477.6 237.9 473.8 229.0 470.8C220.1 467.8 207.1 465.3 197.7 461.4C188.3 457.5 179.1 453.0 172.7 447.3C166.3 441.6 162.1 435.7 159.5 427.0C156.9 418.3 157.2 407.8 157.0 395.0Z" fill="#ad7040"/>
<ellipse cx="197.4" cy="408.6" rx="31" ry="19.2" fill="#b55c32" transform="rotate(4 197.4 408.6)"/><ellipse cx="348.6" cy="412.8" rx="31.3" ry="18.8" fill="#b55c32" transform="rotate(-3 348.6 412.8)"/>
<ellipse cx="205.9" cy="391.5" rx="8.2" ry="10" fill="#5e3921"/><ellipse cx="333.9" cy="394.8" rx="8.2" ry="10" fill="#5e3921"/>
<path d="M191.6 344.3C195.5 337 203 332.3 209.8 332C213.5 332.2 215.4 335.5 216 339.9C207.5 339.6 199.5 341.3 191.6 344.3Z" fill="#62401f" stroke="#62401f" stroke-width="0.8" stroke-linejoin="round"/>
<path d="M322.6 344C321.8 339.5 323.2 336.2 326.5 335.2C333.5 333.6 341.5 336.2 347.2 341.2C339 340 330.5 340.8 322.6 344Z" fill="#62401f" stroke="#62401f" stroke-width="0.8" stroke-linejoin="round"/>
<path d="M262.2 407.5C263.5 404.5 266.5 405 269 406.3C272 407.3 275 406.8 277.5 405.5C280 404.3 282.5 405 282.5 408C281.5 412 277 414 272 414C267 414 262.5 411.5 262.2 407.5Z" fill="#95613a"/>
<path d="M247.4 430C247 428 248.6 427.2 250.2 428C262 435.2 280 435.2 292.2 427.6C294 426.8 295.2 428 294.9 429.8C293.5 442 283 451 271 451C259 451 248.4 442 247.4 430Z" fill="#7a3c20"/>
<path d="M249.6 428.4C262 435.2 280 435.2 292.8 427.9L291 439.6C279 441.6 263 441.6 251.6 439.8Z" fill="#fff" stroke="#fff" stroke-width="0.8" stroke-linejoin="round"/>
<path d="M253.5 443C262 440.8 279 440.8 287 442.6C283 448 277.5 450.5 271 450.5C264 450.5 257.5 448 253.5 443Z" fill="#f7819b"/>
<path d="M160.5 378.0C160.3 378.0 158.7 367.3 157.4 365.2C156.1 363.0 154.2 368.8 152.6 365.1C151.0 361.4 148.6 349.7 147.9 343.0C147.3 336.3 148.9 331.4 148.8 324.9C148.7 318.3 147.0 309.8 147.5 303.7C147.9 297.6 149.6 292.9 151.4 288.1C153.2 283.4 155.8 278.6 158.2 275.1C160.7 271.5 163.3 269.1 166.1 266.7C168.8 264.2 171.6 262.5 174.7 260.4C177.7 258.2 181.0 255.7 184.4 253.9C187.8 252.0 191.2 250.6 195.0 249.0C198.7 247.5 202.7 245.8 206.7 244.6C210.7 243.3 214.0 243.1 219.1 241.5C224.2 240.0 230.7 237.0 237.2 235.3C243.7 233.6 251.1 232.3 258.1 231.4C265.0 230.6 272.1 230.2 278.9 230.3C285.7 230.4 292.4 231.1 298.8 231.9C305.3 232.8 311.2 233.8 317.7 235.4C324.3 236.9 331.9 238.5 338.2 241.2C344.5 243.8 350.4 247.8 355.5 251.3C360.7 254.8 364.8 258.2 369.2 261.9C373.6 265.6 378.3 269.6 382.0 273.4C385.7 277.3 389.1 279.8 391.4 285.0C393.6 290.2 394.3 297.9 395.4 304.8C396.5 311.6 397.2 320.2 397.8 326.1C398.4 332.0 399.4 334.9 399.0 340.1C398.6 345.4 396.7 352.1 395.5 357.6C394.4 363.2 392.5 371.5 392.1 373.4C391.7 375.3 394.4 368.6 393.1 369.1C391.9 369.6 385.9 377.2 384.5 376.5C383.1 375.8 385.2 368.7 384.5 365.1C383.8 361.4 381.2 359.6 380.2 354.6C379.2 349.5 380.9 340.9 378.4 334.7C375.9 328.6 371.4 321.8 365.5 317.7C359.5 313.6 350.9 311.1 342.7 310.1C334.4 309.0 324.4 311.0 316.1 311.5C307.7 312.0 301.1 314.1 292.7 313.1C284.2 312.0 274.5 307.5 265.4 305.4C256.2 303.4 246.4 303.2 237.6 300.8C228.8 298.5 222.2 293.5 212.6 291.3C203.0 289.2 186.7 283.9 180.2 288.0C173.7 292.1 176.5 308.7 173.5 315.9C170.6 323.2 165.0 324.9 162.6 331.5C160.2 338.0 159.7 349.8 159.1 355.4C158.4 361.0 158.3 361.3 158.5 365.0C158.7 368.8 160.7 378.0 160.5 378.0Z" fill="#000" stroke="#000" stroke-width="20.4" stroke-dasharray="0.1 17.6" stroke-linecap="round" stroke-linejoin="round"/>
<path d="M149 372C151 384 157 394 164.8 399.5C166.5 392 168 384 169 374Z" fill="#000"/><path d="M399 374C397 385 391 392 383 395.5C380.5 389 378 382 376 373Z" fill="#000"/>
<path d="M559.6 243.5L568.5 242.8M556.3 237.3L562.1 231.9M549.6 233.5L550.3 224.6M542.1 236.2L537.2 229.9M537.6 244.1L528.6 243.8M549.0 255.5L549.3 264.5M556.4 251.5L562.3 256.9" stroke="#fffef4" stroke-width="2.3" stroke-linecap="round" fill="none"/>
<circle cx="548.6" cy="244.5" r="2.6" fill="#fffef4"/>
<g transform="translate(548.6 244.5) rotate(39)"><path d="M0 0V22" stroke="#fffef4" stroke-width="2.2" fill="none"/><path d="M0 19C-5 26 -11.5 36 -16 50C-20.5 63 -25.5 80 -26 95L-24.5 106C-24 110.5 -21 112.5 -17 112.7L17 112.7C21 112.5 24 110.5 24.5 106L26 95C25.5 80 20.5 63 16 50C11.5 36 5 26 0 19Z" fill="none" stroke="#fffef4" stroke-width="2.8" stroke-linejoin="round"/><path d="M0 19C-4.5 25 -9 32 -12.5 41C-4.5 37.2 4.5 37.2 12.5 41C9 32 4.5 25 0 19Z" fill="#fffef4"/><path d="M-13.8 45.2C-5 41.4 5 41.4 13.8 45.2" fill="none" stroke="#fffef4" stroke-width="1.5"/><polygon points="-2.46,45.73 0.99,49.04 5.67,48.07 3.60,52.37 5.97,56.53 1.23,55.88 -1.98,59.42 -2.84,54.72 -7.20,52.75 -2.98,50.49" fill="#fffef4" stroke="#fffef4" stroke-width="1" stroke-linejoin="round"/><circle cx="-1.2" cy="80" r="13.2" fill="none" stroke="#fffef4" stroke-width="2.8"/><circle cx="-1.2" cy="80" r="8.6" fill="#fffef4"/><path d="M-5.7 83.5C-7.2 79 -4.2 74.5 0.3 74" fill="none" stroke="#fec93b" stroke-width="1.3" stroke-linecap="round"/><path d="M-26 95.5L-33 96.5C-36 97 -37 99 -36.3 102L-28.5 131C-27.5 134.5 -24.5 134.5 -23.8 131.5L-20.5 112.7" fill="none" stroke="#fffef4" stroke-width="2.8" stroke-linejoin="round" stroke-linecap="round"/><path d="M26 95.5L33 96.5C36 97 37 99 36.3 102L28.5 131C27.5 134.5 24.5 134.5 23.8 131.5L20.5 112.7" fill="none" stroke="#fffef4" stroke-width="2.8" stroke-linejoin="round" stroke-linecap="round"/><path d="M-9 106C-9.3 102.5 -7.5 101.2 -4.5 101.2L4.5 101.2C7.5 101.2 9.3 102.5 9 106L1.8 139.5C1.1 142.6 -1.1 142.6 -1.8 139.5Z" fill="#fec93b" stroke="#fffef4" stroke-width="2.8" stroke-linejoin="round"/></g>
<path d="M457.5 343.5C445 354 428 372 403 384.5" fill="none" stroke="#fffef4" stroke-width="3.1" stroke-dasharray="7 8.3" stroke-linecap="round"/>
<defs><radialGradient id="bg0" cx="0.45" cy="0.38" r="0.62"><stop offset="0" stop-color="#e0483f"/><stop offset="0.55" stop-color="#c5282d"/><stop offset="1" stop-color="#c5282d"/></radialGradient><radialGradient id="bg1" cx="0.45" cy="0.38" r="0.62"><stop offset="0" stop-color="#8ec2ea"/><stop offset="0.55" stop-color="#4f97cf"/><stop offset="1" stop-color="#4f97cf"/></radialGradient><radialGradient id="bg2" cx="0.45" cy="0.38" r="0.62"><stop offset="0" stop-color="#3fa85a"/><stop offset="0.55" stop-color="#26863f"/><stop offset="1" stop-color="#26863f"/></radialGradient><radialGradient id="bg3" cx="0.45" cy="0.38" r="0.62"><stop offset="0" stop-color="#e2508a"/><stop offset="0.55" stop-color="#cc2868"/><stop offset="1" stop-color="#cc2868"/></radialGradient><radialGradient id="bg4" cx="0.45" cy="0.38" r="0.62"><stop offset="0" stop-color="#f3dc4a"/><stop offset="0.55" stop-color="#e3bb1c"/><stop offset="1" stop-color="#e3bb1c"/></radialGradient><radialGradient id="bg5" cx="0.45" cy="0.38" r="0.62"><stop offset="0" stop-color="#8a3fa0"/><stop offset="0.55" stop-color="#6c2a80"/><stop offset="1" stop-color="#6c2a80"/></radialGradient><radialGradient id="bg6" cx="0.45" cy="0.38" r="0.62"><stop offset="0" stop-color="#f47a3c"/><stop offset="0.55" stop-color="#e34d27"/><stop offset="1" stop-color="#e34d27"/></radialGradient></defs>
<circle cx="415.6" cy="749.6" r="22.8" fill="#fffdf2"/>
<circle cx="456.1" cy="749.6" r="22.8" fill="#fffdf2"/>
<circle cx="496.4" cy="749.6" r="22.8" fill="#fffdf2"/>
<circle cx="537" cy="749.6" r="22.8" fill="#fffdf2"/>
<circle cx="435.5" cy="784.8" r="22.8" fill="#fffdf2"/>
<circle cx="476" cy="784.8" r="22.8" fill="#fffdf2"/>
<circle cx="516.7" cy="784.8" r="22.8" fill="#fffdf2"/>
<circle cx="415.6" cy="749.6" r="19.8" fill="url(#bg0)"/>
<text transform="translate(415.6 756.1) scale(1.16 1)" x="0" y="0" text-anchor="middle" font-family="Liberation Sans, sans-serif" font-weight="bold" font-size="18.4" fill="#fff">H</text>
<circle cx="456.1" cy="749.6" r="19.8" fill="url(#bg1)"/>
<text transform="translate(456.1 756.1) scale(1.16 1)" x="0" y="0" text-anchor="middle" font-family="Liberation Sans, sans-serif" font-weight="bold" font-size="18.4" fill="#fff">A</text>
<circle cx="496.4" cy="749.6" r="19.8" fill="url(#bg2)"/>
<text transform="translate(496.4 756.1) scale(1.16 1)" x="0" y="0" text-anchor="middle" font-family="Liberation Sans, sans-serif" font-weight="bold" font-size="18.4" fill="#fff">V</text>
<circle cx="537" cy="749.6" r="19.8" fill="url(#bg3)"/>
<text transform="translate(537 756.1) scale(1.16 1)" x="0" y="0" text-anchor="middle" font-family="Liberation Sans, sans-serif" font-weight="bold" font-size="18.4" fill="#fff">E</text>
<circle cx="435.5" cy="784.8" r="19.8" fill="url(#bg4)"/>
<text transform="translate(435.5 791.3) scale(1.16 1)" x="0" y="0" text-anchor="middle" font-family="Liberation Sans, sans-serif" font-weight="bold" font-size="18.4" fill="#fff">F</text>
<circle cx="476" cy="784.8" r="19.8" fill="url(#bg5)"/>
<text transform="translate(476 791.3) scale(1.16 1)" x="0" y="0" text-anchor="middle" font-family="Liberation Sans, sans-serif" font-weight="bold" font-size="18.4" fill="#fff">U</text>
<circle cx="516.7" cy="784.8" r="19.8" fill="url(#bg6)"/>
<text transform="translate(516.7 791.3) scale(1.16 1)" x="0" y="0" text-anchor="middle" font-family="Liberation Sans, sans-serif" font-weight="bold" font-size="18.4" fill="#fff">N</text>
<text x="404" y="820.5" font-family="Liberation Serif, serif" font-style="italic" font-weight="bold" font-size="13.5" fill="#fdf4cc" textLength="143.5" lengthAdjust="spacingAndGlyphs">Usar é uma brincadeira</text>
<text x="407.5" y="523.7" font-family="Liberation Sans, sans-serif" font-size="35.5" fill="#c9285b" stroke="#c9285b" stroke-width="0.4" textLength="88" lengthAdjust="spacingAndGlyphs">Busto</text><text x="370.5" y="638.6" font-family="Liberation Sans, sans-serif" font-size="35.5" fill="#c9285b" stroke="#c9285b" stroke-width="0.4" textLength="124.5" lengthAdjust="spacingAndGlyphs">Quadril</text><text transform="translate(57.6 600.3) rotate(-90)" x="0" y="0" font-family="Liberation Sans, sans-serif" font-size="36.5" fill="#c9285b" stroke="#c9285b" stroke-width="0.4" textLength="97.5" lengthAdjust="spacingAndGlyphs">Altura</text><path d="M313 527.8H498.3M313 645.8H498.3" stroke="#fffef6" stroke-width="4.6" fill="none"/>
</svg>
</div>
</body></html>
